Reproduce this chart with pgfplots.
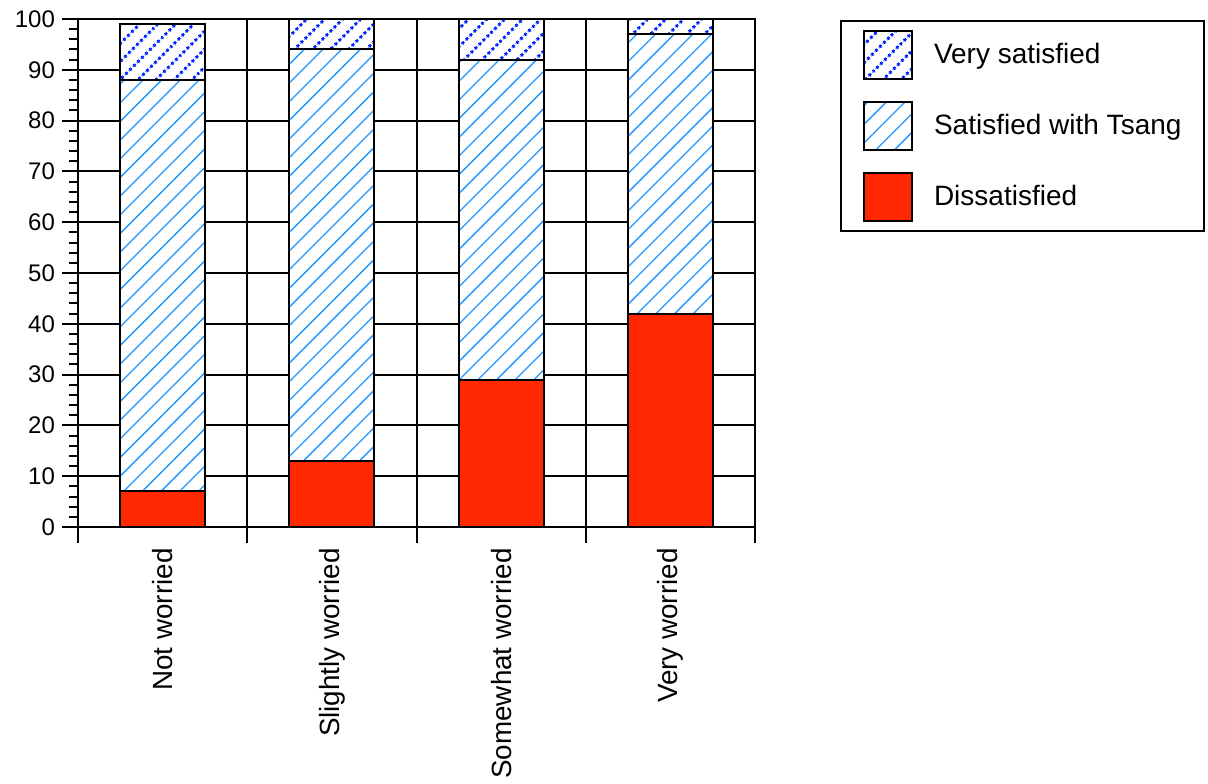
\documentclass[border=0pt]{standalone}
\usepackage{fontspec}
\setmainfont{Liberation Sans}
\usepackage{pgfplots}
\usepackage{pgfplotstable}
\pgfplotsset{compat=1.18}
\usetikzlibrary{patterns.meta}

\definecolor{dissred}{HTML}{FF2800}
\definecolor{satblue}{HTML}{1E96FF}
\definecolor{vsblue}{HTML}{0026FF}

\pgfdeclarepattern{
  name=DotLines,
  type=uncolored,
  bottom left={\pgfpoint{0pt}{0pt}},
  top right={\pgfpoint{2.6pt}{6.6pt}},
  tile size={\pgfpoint{2.6pt}{6.6pt}},
  tile transformation={\pgftransformrotate{45}},
  code={\pgfpathcircle{\pgfpoint{1.3pt}{3.3pt}}{0.95pt}\pgfusepath{fill}}
}

\pgfplotsset{sqleg/.style={legend image code/.code={\draw[##1] (0pt,-12pt) rectangle (24pt,12pt);}}}

\pgfplotstableread{
x diss sat vsat
0 7 81 11
1 13 81 6
2 29 63 8
3 42 55 3
}\datatable

\begin{document}
\begin{tikzpicture}
\useasboundingbox (0,0) rectangle (604pt,391.5pt);
\begin{axis}[
  at={(39pt,128pt)}, anchor=south west,
  scale only axis, width=338.5pt, height=254pt,
  xmin=-0.5, xmax=3.5, ymin=0, ymax=100,
  ybar stacked, bar width=42.5pt,
  axis line style={line width=1pt},
  ytick={0,10,...,100}, minor y tick num=4,
  xtick={-0.5,0.5,1.5,2.5,3.5}, xticklabels={},
  extra x ticks={0,1,2,3},
  extra x tick labels={Not worried,Slightly worried,Somewhat worried,Very worried},
  extra x tick style={major tick length=0pt, grid=none,
    tick label style={rotate=90, anchor=east, inner sep=0pt, inner xsep=10.5pt, font=\fontsize{13.9}{16}\selectfont}},
  tick align=outside, tick pos=left,
  major tick length=8pt, minor tick length=4.5pt,
  every tick/.style={black, line width=1pt},
  xmajorgrids, ymajorgrids,
  major grid style={black, line width=1pt},
  yticklabel style={font=\fontsize{12}{14}\selectfont},
  /pgf/number format/assume math mode=true,
  reverse legend,
  legend style={at={(1.1256,0.998)}, anchor=north west, draw=black, line width=1pt,
    inner xsep=11pt, inner ysep=4.5pt, row sep=10.4pt, column sep=10.5pt,
    font=\fontsize{14}{16}\selectfont, nodes={inner sep=0pt}},
  legend cell align=left,
]
\addplot[draw=black, line width=1pt, fill=dissred, sqleg] table[x=x,y=diss]{\datatable};
\addlegendentry{Dissatisfied}
\addplot[draw=black, line width=1pt, preaction={fill=white}, pattern={Lines[angle=45,distance=6.6pt,line width=0.65pt]}, pattern color=satblue, sqleg] table[x=x,y=sat]{\datatable};
\addlegendentry{Satisfied with Tsang}
\addplot[draw=black, line width=1pt, preaction={fill=white}, pattern=DotLines, pattern color=vsblue, sqleg] table[x=x,y=vsat]{\datatable};
\addlegendentry{Very satisfied}
\end{axis}
\end{tikzpicture}
\end{document}
